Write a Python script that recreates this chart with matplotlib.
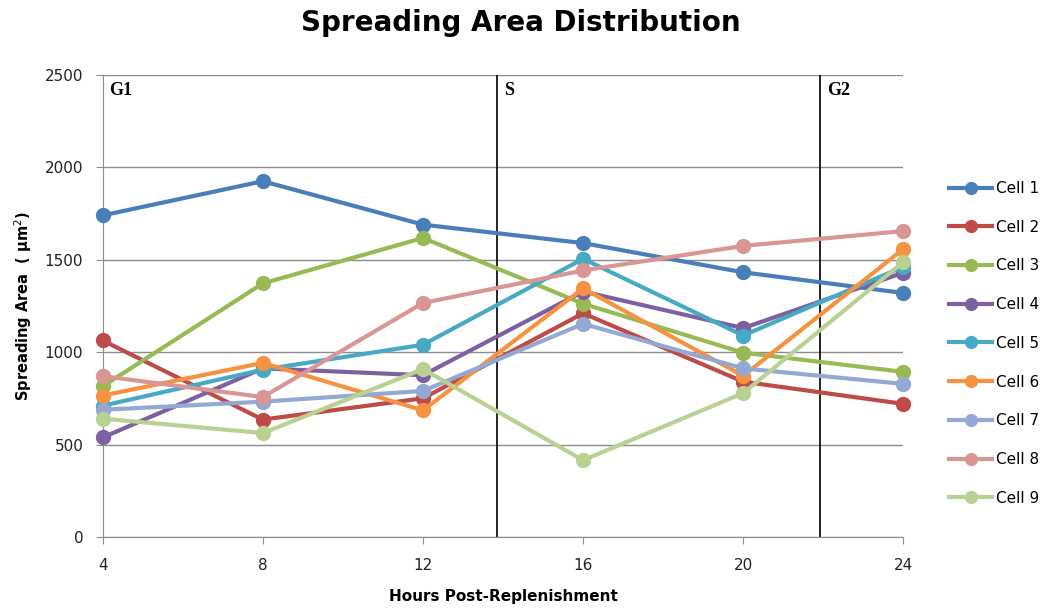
import matplotlib
matplotlib.use("Agg")
import matplotlib.pyplot as plt

hours = [4, 8, 12, 16, 20, 24]
cell1 = [1740, 1925, 1690, 1590, 1432, 1320]
cell2 = [1063, 635, 750, 1210, 840, 720]
cell3 = [815, 1372, 1618, 1262, 997, 893]
cell4 = [538, 912, 875, 1328, 1130, 1430]
cell5 = [710, 905, 1040, 1505, 1090, 1462]
cell6 = [765, 942, 685, 1345, 872, 1558]
cell7 = [688, 732, 790, 1153, 912, 828]
cell8 = [870, 757, 1266, 1442, 1575, 1655]
cell9 = [640, 562, 908, 415, 778, 1488]
series = [cell1, cell2, cell3, cell4, cell5, cell6, cell7, cell8, cell9]
names = ["Cell 1", "Cell 2", "Cell 3", "Cell 4", "Cell 5", "Cell 6", "Cell 7", "Cell 8", "Cell 9"]
colors = ["#4A7EBB", "#BE4B48", "#98B954", "#7D60A0", "#46AAC5", "#F69240",
          "#93A9D4", "#D99694", "#B9D192"]
phase_bounds = [13.85, 21.93]
phase_labels = ["G1", "S", "G2"]
phase_label_x = [4, 13.85, 21.93]

fig = plt.figure(figsize=(10.47, 6.12), dpi=100)
ax = fig.add_axes([0.0981, 0.1227, 0.7647, 0.7548])

for vals, name, c in zip(series, names, colors):
    ax.plot(hours, vals, color=c, lw=3, marker='o', ms=10, label=name, zorder=3, clip_on=False)

for xb in phase_bounds:
    ax.axvline(xb, color='black', lw=1.2, zorder=2)
for lx, lab in zip(phase_label_x, phase_labels):
    ax.text(lx + 0.17, 2460, lab, family='Liberation Serif', fontweight='bold',
            fontsize=13, va='top', ha='left')

ax.set_xlim(4, 24)
ax.set_ylim(0, 2500)
ax.set_xticks(hours)
ax.set_yticks(range(0, 2501, 500))
ax.yaxis.grid(True, color='#8C8C8C', lw=1)
ax.set_axisbelow(True)
for s in ['top', 'right']:
    ax.spines[s].set_visible(False)
for s in ['left', 'bottom']:
    ax.spines[s].set_color('#8C8C8C')
ax.tick_params(axis='both', colors='#8C8C8C', labelcolor='#222222', labelsize=11, length=5)
ax.tick_params(axis='x', pad=10)
ax.tick_params(axis='y', pad=9)

ax.set_xlabel("Hours Post-Replenishment", fontsize=11, fontweight='bold', labelpad=12)
ax.set_ylabel("Spreading Area  ( µm$^2$)", fontsize=10.5, fontweight='bold', labelpad=8)
fig.suptitle("Spreading Area Distribution", fontsize=20, fontweight='bold', x=0.497, y=0.985)

leg = ax.legend(loc='upper left', bbox_to_anchor=(1.04, 0.8), frameon=False, fontsize=11,
                handlelength=2.8, labelspacing=1.55, handletextpad=0.3, markerscale=0.85)

fig.savefig("out.png", dpi=100)
